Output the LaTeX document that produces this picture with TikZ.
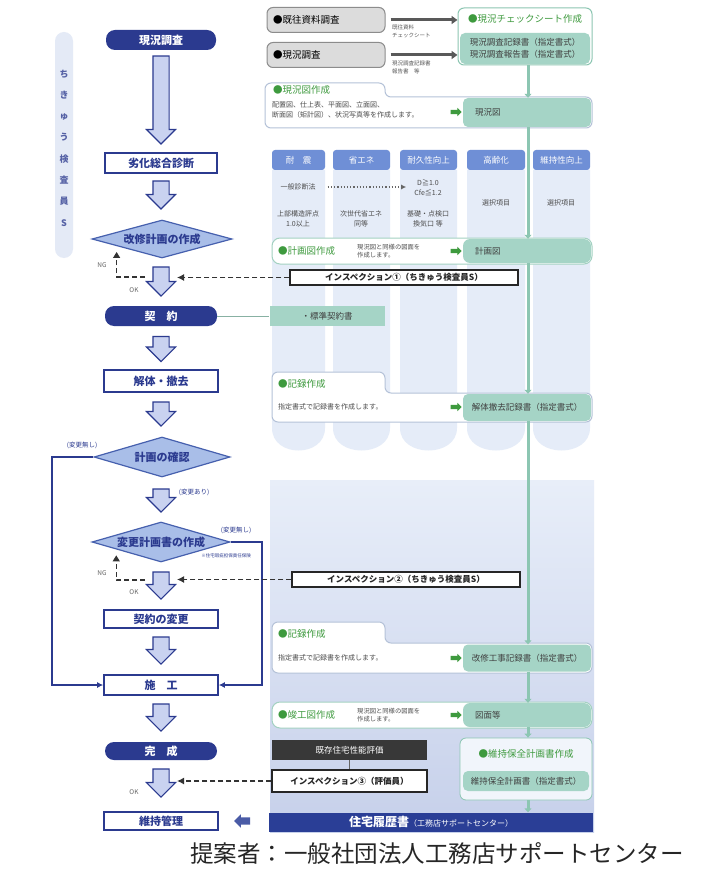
\documentclass[tikz,border=0pt]{standalone}
\usepackage{fontspec}
\setmainfont{Noto Sans CJK JP}
\usetikzlibrary{shapes.geometric,shapes.arrows,arrows.meta,calc}
\definecolor{navy}{HTML}{2B3A8F}
\definecolor{arrfill}{HTML}{C9D2F0}
\definecolor{diafill}{HTML}{A9BEE8}
\definecolor{diaedge}{HTML}{4660AE}
\definecolor{hdrc}{HTML}{6F8FD6}
\definecolor{colbgc}{HTML}{E5ECF8}
\definecolor{tealc}{HTML}{A5D4C6}
\definecolor{tlinec}{HTML}{8CC6B2}
\definecolor{gtextc}{HTML}{3E9A3E}
\definecolor{grayc}{HTML}{DCDCDC}
\definecolor{pillbgc}{HTML}{E4EAF6}
\definecolor{lowtop}{HTML}{E8EEF9}
\definecolor{lowbot}{HTML}{C6D0EA}
\definecolor{folderedge}{HTML}{B5C2D8}
\definecolor{rirekic}{HTML}{2A3E96}
\newcommand\fsz[2]{\fontsize{#1}{#2}\selectfont}
\begin{document}
\begin{tikzpicture}[x=1pt,y=-1pt,
  pillnode/.style={rounded corners=9pt, fill=navy, text=white, font=\fsz{11}{13}\bfseries, minimum height=20pt, minimum width=112pt, inner sep=0pt},
  rectnode/.style={draw=navy, line width=1.6pt, fill=white, text=navy, font=\fsz{11}{13}\bfseries, minimum height=20pt, minimum width=114pt, inner sep=0pt},
  dianode/.style={diamond, aspect=3.6, draw=diaedge, line width=1.2pt, fill=diafill, text=navy, font=\fsz{11}{13}\bfseries, minimum width=140pt, minimum height=38pt, inner sep=0pt},
  barrow/.style={single arrow, rotate=-90, draw=navy, line width=1.1pt, fill=arrfill, inner xsep=0pt, inner ysep=7.5pt, single arrow head extend=6.5pt, minimum width=28pt},
  navyline/.style={draw=navy, line width=1.3pt},
  insline/.style={draw=black!80, line width=1.3pt, dash pattern=on 5pt off 3pt, -{Latex[length=7pt,width=7pt]}},
  ngline/.style={draw=black!80, line width=1.3pt, dash pattern=on 5pt off 3pt, -{Triangle[length=6pt,width=7pt]}},
  tconn/.style={draw=tlinec, line width=3pt, -{Triangle[length=4pt,width=7pt]}},
  graybox/.style={draw=black!45, line width=1pt, fill=grayc, rounded corners=6pt, minimum width=118pt, minimum height=25pt, text width=106pt, align=left, font=\fsz{9.5}{11}, inner sep=0pt},
  gtitle/.style={text=gtextc, font=\fsz{9.5}{11}, inner sep=0pt},
  tealnode/.style={fill=tealc, rounded corners=5pt, font=\fsz{8.5}{12}, text=black!75, inner sep=0pt, align=center},
  smalltext/.style={font=\fsz{7}{10}, text=black!70, inner sep=0pt, align=left},
  tinytext/.style={font=\fsz{6.3}{8.5}, text=black!70, inner sep=0pt, align=left},
  coltext/.style={font=\fsz{7}{10}, text=black!70, inner sep=0pt, align=center},
  hdrnode/.style={fill=hdrc, rounded corners=3pt, text=white, font=\fsz{8.5}{10}, minimum height=20pt, inner sep=0pt},
  garrow/.style={single arrow, fill=gtextc, draw=none, inner xsep=0pt, inner ysep=2pt, single arrow head extend=2pt, minimum height=11pt},
  insbox/.style={draw=black!85, line width=1.3pt, fill=white, font=\fsz{8.5}{10}\bfseries, text=black!85, inner sep=0pt, minimum height=15pt},
  folder/.style={draw=folderedge, line width=1pt, fill=white, rounded corners=6pt},
  band/.style={draw=tlinec!80, line width=1pt, fill=white, rounded corners=8pt, minimum width=320pt, minimum height=26pt, inner sep=0pt},
  labeltext/.style={font=\fsz{6.5}{8}, text=navy, inner sep=0pt},
  okng/.style={font=\fsz{6.5}{8}, text=black!60, inner sep=0pt}
]
\useasboundingbox (0,0) rectangle (723,877);
\fill[white] (0,0) rectangle (723,877);

% ---------- right panel: columns ----------
\foreach \a/\b/\t/\n in {272/325/{耐　震}/c1, 333/390/{省エネ}/c2, 400/457/{耐久性向上}/c3, 467/525/{高齢化}/c4, 533/590/{維持性向上}/c5}{
  \pgfmathsetmacro\m{(\a+\b)/2}
  \pgfmathsetmacro\w{\b-\a}
  \fill[colbgc] (\a,170) -- (\a,428) .. controls (\a,458) and (\b,458) .. (\b,428) -- (\b,170) -- cycle;
  \node[hdrnode, minimum width=\w pt] (\n) at (\m,160) {\t};
}
\node[coltext] (c1a) at (298,187) {一般診断法};
\node[coltext] (c1b) at (298,219) {上部構造評点\\1.0以上};
\node[coltext] (c2b) at (361,219) {次世代省エネ\\同等};
\node[coltext] (c3a) at (428,188) {D≧1.0\\Cfe≦1.2};
\node[coltext] (c3b) at (428,219) {基礎・点検口\\換気口 等};
\node[coltext] (c4a) at (496,203) {選択項目};
\node[coltext] (c5a) at (561,203) {選択項目};
\draw[black!60, line width=1.2pt, dotted, -{Latex[length=5pt,width=5pt]}, shorten <=12pt, shorten >=8pt] (c1a.east) -- (c1a.east -| c3a.west);

% lower background
\shade[top color=lowtop, bottom color=lowbot] (270,480) rectangle (594,832);

% ---------- top gray boxes and check sheet ----------
\node[graybox] (kiou) at (326,20) {●既往資料調査};
\node[graybox] (genkyo) at (326,55) {●現況調査};
\node[draw=tlinec, line width=1pt, fill=white, rounded corners=6pt, minimum width=134pt, minimum height=57pt, inner sep=0pt] (chk) at (525,36.5) {};
\node[gtitle] (chkh) at (525,19) {●現況チェックシート作成};
\node[tealnode, minimum width=130pt, minimum height=31pt] (chkt) at (525,48.5) {現況調査記録書（指定書式）\\現況調査報告書（指定書式）};
\draw[draw=black!65, line width=3pt, -{Triangle[length=6pt,width=8pt]}, shorten <=5pt] (kiou.east) -- (kiou.east -| chk.west);
\draw[draw=black!65, line width=3pt, -{Triangle[length=6pt,width=8pt]}, shorten <=5pt] (genkyo.east) -- (genkyo.east -| chk.west);
\node[font=\fsz{5.5}{8}, text=black!65, align=left, inner sep=0pt, anchor=north west] (lb1) at (392,25) {既往資料\\チェックシート};
\node[font=\fsz{5.5}{8}, text=black!65, align=left, inner sep=0pt, anchor=north west] (lb2) at (392,61) {現況調査記録書\\報告書　等};

% ---------- 現況図作成 ----------
\draw[folder] (265,128) -- (265,83) -- (385,83) -- (385,97) -- (592,97) -- (592,128) -- cycle;
\node[tealnode, minimum width=128pt, minimum height=29pt, text width=104pt, align=left] (gzu) at (527,112.5) {現況図};
\node[gtitle, anchor=west] (gzt) at (273,90) {●現況図作成};
\node[smalltext, anchor=west] (gzb) at (272,110) {配置図、仕上表、平面図、立面図、\\断面図（矩計図）、状況写真等を作成します。};
\node[garrow] (ga1) at (455,112) {};

% ---------- 計画図作成 ----------
\node[band] (kband) at (432,251) {};
\node[tealnode, minimum width=128pt, minimum height=24pt, text width=104pt, align=left, rounded corners=7pt] (kzu) at (527,251) {計画図};
\node[gtitle, anchor=west] (kzt) at (278,251) {●計画図作成};
\node[tinytext, anchor=west] (kzb) at (357,251) {現況図と同様の図面を\\作成します。};
\node[garrow] (ga2) at (455,251) {};

% inspection 1
\node[insbox, minimum width=228pt] (ins1) at (404,277.5) {インスペクション①（ちきゅう検査員S）};

% 標準契約書
\node[tealnode, minimum width=115pt, minimum height=20pt, rounded corners=0pt] (hyo) at (327,316) {・標準契約書};

% ---------- 記録作成 (1) ----------
\draw[folder] (272,422) -- (272,372) -- (385,372) -- (385,393) -- (592,393) -- (592,422) -- cycle;
\node[tealnode, minimum width=128pt, minimum height=27pt] (kaitai) at (527,407.5) {解体撤去記録書（指定書式）};
\node[gtitle, anchor=west] (k1t) at (278,384) {●記録作成};
\node[smalltext, anchor=west] (k1b) at (278,407) {指定書式で記録書を作成します。};
\node[garrow] (ga3) at (455,407) {};

% inspection 2
\node[insbox, minimum width=228pt] (ins2) at (406,579.5) {インスペクション②（ちきゅう検査員S）};

% ---------- 記録作成 (2) ----------
\draw[folder] (272,673) -- (272,622) -- (385,622) -- (385,643) -- (592,643) -- (592,673) -- cycle;
\node[tealnode, minimum width=128pt, minimum height=27pt] (kaishu) at (527,658) {改修工事記録書（指定書式）};
\node[gtitle, anchor=west] (k2t) at (278,634) {●記録作成};
\node[smalltext, anchor=west] (k2b) at (278,658) {指定書式で記録書を作成します。};
\node[garrow] (ga4) at (455,658) {};

% ---------- 竣工図作成 ----------
\node[band] (sband) at (432,715) {};
\node[tealnode, minimum width=128pt, minimum height=24pt, text width=104pt, align=left, rounded corners=7pt] (zumen) at (527,715) {図面等};
\node[gtitle, anchor=west] (szt) at (278,715) {●竣工図作成};
\node[tinytext, anchor=west] (szb) at (357,715) {現況図と同様の図面を\\作成します。};
\node[garrow] (ga5) at (455,715) {};

% 既存住宅性能評価 / inspection 3
\node[fill=black!78, text=white, font=\fsz{8.5}{10}, minimum width=155pt, minimum height=20pt, inner sep=0pt] (seino) at (349.5,750) {既存住宅性能評価};
\node[insbox, minimum width=155pt, minimum height=22pt] (ins3) at (349.5,781) {インスペクション③（評価員）};
\draw[black!60, line width=1pt] (seino.south) -- (ins3.north);

% 維持保全計画書
\node[draw=tlinec, line width=0.8pt, fill=white!40!lowtop, rounded corners=6pt, minimum width=132pt, minimum height=62pt, inner sep=0pt] (iji) at (526,769) {};
\node[gtitle] (ijih) at (526,754) {●維持保全計画書作成};
\node[tealnode, minimum width=126pt, minimum height=20pt] (ijit) at (526,781) {維持保全計画書（指定書式）};

% 住宅履歴書
\node[fill=rirekic, text=white, minimum width=324pt, minimum height=19pt, inner sep=0pt] (rireki) at (431,822) {\fsz{12}{13}\bfseries 住宅履歴書\fsz{8}{9}\mdseries（工務店サポートセンター）};

% teal vertical connectors
\coordinate (xl) at (528,0);
\draw[tconn] (chk.south -| xl) -- (gzu.north -| xl);
\draw[tconn] (gzu.south -| xl) -- (kzu.north -| xl);
\draw[tconn] (kzu.south -| xl) -- (kaitai.north -| xl);
\draw[tconn] (kaitai.south -| xl) -- (kaishu.north -| xl);
\draw[tconn] (kaishu.south -| xl) -- (zumen.north -| xl);
\draw[tconn] (zumen.south -| xl) -- (iji.north -| xl);
\draw[tconn] (iji.south -| xl) -- (rireki.north -| xl);

% ---------- left side ----------
\node[fill=pillbgc, rounded corners=9pt, minimum width=18pt, minimum height=226pt, inner sep=0pt] (sidepill) at (64,145) {};
\node[font=\fsz{9}{21.3}\bfseries, text=navy!80, align=center, inner sep=0pt] (sidetext) at (64,148) {ち\\き\\ゅ\\う\\検\\査\\員\\S};

\node[pillnode, minimum width=110pt] (genchosa) at (161,40) {現況調査};
\node[rectnode, minimum width=112pt] (rekka) at (161,163) {劣化総合診断};
\node[dianode] (dia1) at (162,239) {改修計画の作成};
\node[pillnode] (keiyaku) at (161,316) {契　約};
\node[rectnode, minimum height=22pt] (kaitail) at (161,381) {解体・撤去};
\node[dianode, minimum width=136pt, minimum height=40pt] (dia2) at (162,457) {計画の確認};
\node[dianode, minimum width=138pt, minimum height=40pt] (dia3) at (161,542) {変更計画書の作成};
\node[rectnode, minimum height=18pt] (henko) at (161,619) {契約の変更};
\node[rectnode] (sekou) at (161,685) {施　工};
\node[pillnode, minimum height=18pt] (kansei) at (161,751) {完　成};
\node[rectnode, minimum height=18pt] (ijil) at (161,821) {維持管理};

% block arrows
\node[barrow, minimum height=88pt] (ar1) at (161,96) {};
\node[barrow, minimum height=28pt] (ar2) at (161,191) {};
\node[barrow, minimum height=29pt] (ar3) at (161,277.5) {};
\node[barrow, minimum height=25pt] (ar4) at (161,345) {};
\node[barrow, minimum height=24pt] (ar5) at (161,410) {};
\node[barrow, minimum height=23pt] (ar6) at (161,496.5) {};
\node[barrow, minimum height=27pt] (ar7) at (161,581.5) {};
\node[barrow, minimum height=27pt] (ar8) at (161,646.5) {};
\node[barrow, minimum height=27pt] (ar9) at (161,713.5) {};
\node[barrow, minimum height=28pt] (ar10) at (161,779) {};

% 契約 -> 標準契約書
\draw[draw=tlinec!70!gray, line width=1pt] (keiyaku.east) -- (hyo.west);

% branches to 施工
\coordinate (lx) at (52,0);
\coordinate (rx) at (262,0);
\draw[navyline, -{Latex[length=6pt,width=6pt]}] (dia2.west) -- (dia2.west -| lx) |- (sekou.west);
\draw[navyline, -{Latex[length=6pt,width=6pt]}] (dia3.east) -- (dia3.east -| rx) |- (sekou.east);
\node[labeltext] (lbn1) at (82,445) {(変更無し)};
\node[labeltext] (lba) at (194,492) {(変更あり)};
\node[labeltext] (lbn2) at (236,530) {(変更無し)};
\node[font=\fsz{4.5}{5}, text=navy, inner sep=0pt] (note) at (226,556) {※住宅瑕疵担保責任保険};

% NG loops
\coordinate (ng1) at (145,277);
\coordinate (tip1) at ($(dia1.west)!0.357!(dia1.south)$);
\draw[ngline, shorten >=6pt] (ng1) -- (ng1 -| tip1) -- (tip1);
\coordinate (ng2) at (145,580);
\coordinate (tip2) at ($(dia3.west)!0.357!(dia3.south)$);
\draw[ngline, shorten >=6pt] (ng2) -- (ng2 -| tip2) -- (tip2);
\node[okng] (ngl1) at (102,265) {NG};
\node[okng] (okl1) at (134,290) {OK};
\node[okng] (ngl2) at (102,573) {NG};
\node[okng] (okl2) at (134,592) {OK};
\node[okng] (okl3) at (134,792) {OK};

% inspection dashed arrows
\coordinate (t1) at (177,277.5);
\coordinate (t2) at (177,579.5);
\coordinate (t3) at (177,781);
\draw[insline] (ins1.west) -- (t1);
\draw[insline] (ins2.west) -- (t2);
\draw[insline] (ins3.west) -- (t3);

% small arrow to 維持管理
\node[single arrow, rotate=180, fill=rirekic!85, draw=none, inner xsep=0pt, inner ysep=3.5pt, single arrow head extend=3pt, minimum height=16pt] (larrow) at (244,821) {};

% proposer
\node[font=\fsz{23.5}{26}, text=black!85, inner sep=0pt] (teian) at (437,853) {提案者：一般社団法人工務店サポートセンター};
\end{tikzpicture}
\end{document}
